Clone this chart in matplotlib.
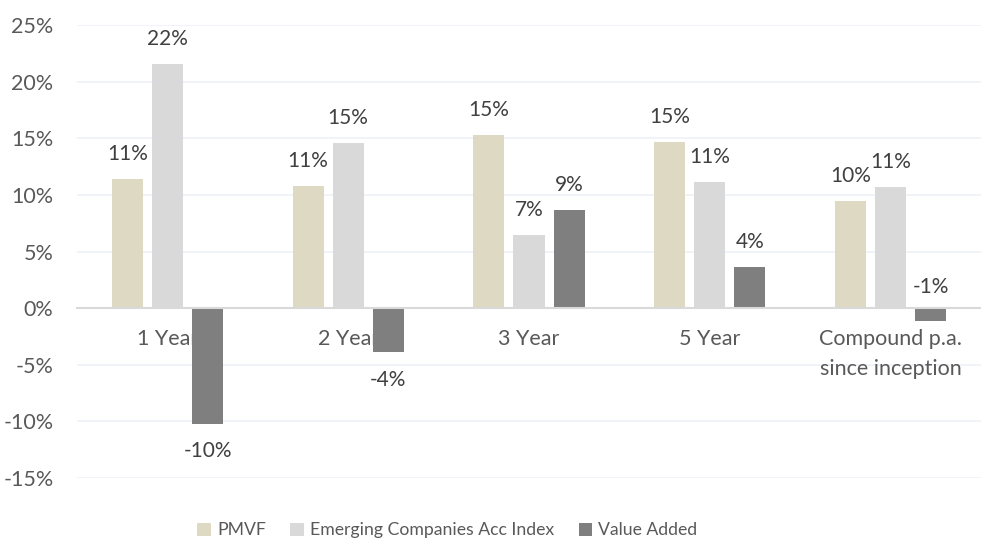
import numpy as np
import matplotlib.pyplot as plt

plt.rcParams['font.family'] = ['Lato', 'DejaVu Sans']

# data
categories = ["1 Year", "2 Year", "3 Year", "5 Year", "Compound p.a.\nsince inception"]
series_names = ["PMVF", "Emerging Companies Acc Index", "Value Added"]
pmvf = [11.4, 10.8, 15.3, 14.7, 9.5]
ec_index = [21.6, 14.6, 6.5, 11.1, 10.7]
value_added = [-10.2, -3.9, 8.7, 3.6, -1.1]
labels_pct = [
    ["11%", "11%", "15%", "15%", "10%"],
    ["22%", "15%", "7%", "11%", "11%"],
    ["-10%", "-4%", "9%", "4%", "-1%"],
]
colors = ["#ddd9c3", "#d9d9d9", "#7f7f7f"]
text_color = "#595959"
label_color = "#404040"

fig = plt.figure(figsize=(9.81, 5.38), dpi=100)
ax = fig.add_axes([77 / 981, 1 - 478 / 538, 1 - 77 / 981, (478 - 25) / 538])

x = np.arange(len(categories))
step = 0.222
width = 0.172
for j, vals in enumerate([pmvf, ec_index, value_added]):
    xs = x + (j - 1) * step
    ax.bar(xs, vals, width, color=colors[j], label=series_names[j], zorder=3)
    for xi, v, lab in zip(xs, vals, labels_pct[j]):
        if v >= 0:
            ax.annotate(lab, (xi, v), xytext=(0, 18), textcoords="offset points",
                        ha="center", va="center", fontsize=15, color=label_color)
        elif v > -2:
            ax.annotate(lab, (xi, 0), xytext=(0, 15), textcoords="offset points",
                        ha="center", va="center", fontsize=15, color=label_color)
        else:
            ax.annotate(lab, (xi, v), xytext=(0, -20), textcoords="offset points",
                        ha="center", va="center", fontsize=15, color=label_color)

ax.set_xlim(-0.5, len(categories) - 0.5)
ax.set_ylim(-15, 25)
ax.set_yticks(np.arange(-15, 26, 5))
ax.set_yticklabels([f"{t}%" for t in np.arange(-15, 26, 5)])
ax.yaxis.grid(True, color="#edf1f7", linewidth=1.2)
ax.set_axisbelow(True)
# category labels sit above the gridlines
ax.xaxis.set_zorder(2)

ax.set_xticks(x)
ax.set_xticklabels(categories)
for s in ["top", "right", "left"]:
    ax.spines[s].set_visible(False)
ax.spines["bottom"].set_position(("data", 0))
ax.spines["bottom"].set_color("#d9d9d9")
ax.spines["bottom"].set_linewidth(1.5)
ax.spines["bottom"].set_zorder(4)
ax.tick_params(axis="both", length=0, labelsize=15.5, labelcolor=text_color)
ax.tick_params(axis="x", pad=15)
ax.tick_params(axis="y", pad=17)
for tick in ax.xaxis.get_major_ticks():
    tick.label1.set_linespacing(1.6)

fig.legend(loc="lower center", bbox_to_anchor=(0.456, -0.03), ncol=3, frameon=False,
           fontsize=12.7, labelcolor=text_color, handlelength=0.75, handleheight=0.75,
           handletextpad=0.35, columnspacing=1.4)

fig.savefig("out.png", dpi=100)
